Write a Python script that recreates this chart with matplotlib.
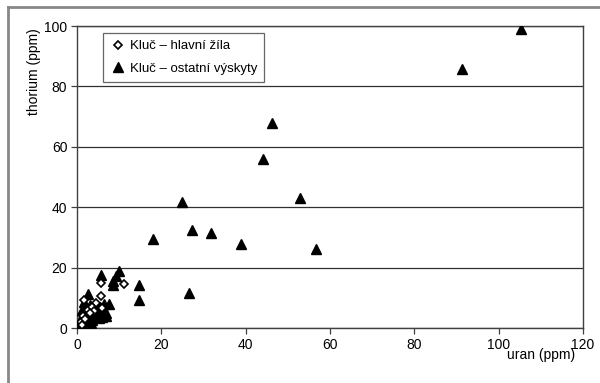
import matplotlib.pyplot as plt
from matplotlib.lines import Line2D

plt.rcParams['font.family'] = ['Liberation Sans', 'DejaVu Sans']

# Kluč - hlavní žíla (uran, thorium)
vein_u = [5.8, 5.8, 11.1, 1.7, 4.6, 2.5, 3.5, 1.5, 1.0, 2.0, 4.0, 3.0, 6.0, 1.2]
vein_th = [14.8, 10.6, 14.5, 9.3, 8.3, 6.0, 7.0, 4.0, 2.0, 3.0, 5.5, 5.0, 6.5, 1.0]

# Kluč - ostatní výskyty
other_u = [2.5, 1.7, 2.0, 1.5, 1.2, 1.0, 0.8, 2.2, 2.8, 3.0, 3.2, 3.8, 4.0, 4.5,
           5.0, 5.5, 5.8, 6.2, 6.8, 7.0, 7.5, 4.2, 3.5, 2.5, 1.8, 6.5, 4.8, 2.0,
           3.0, 1.3, 2.6, 3.6, 4.4, 5.2, 6.0, 2.3, 1.6, 3.3,
           5.8, 8.5, 8.5, 9.3, 10.0, 14.8, 14.8, 18.1, 24.8, 26.5, 27.3,
           31.8, 38.9, 44.2, 46.3, 52.9, 56.6, 91.4, 105.3]
other_th = [11.3, 8.5, 6.5, 4.5, 3.0, 1.5, 0.5, 2.0, 4.0, 6.0, 7.5, 5.5, 3.5, 6.5,
            5.0, 7.0, 4.5, 6.0, 5.0, 4.0, 8.0, 7.8, 2.5, 1.0, 0.8, 8.0, 4.2, 1.5,
            3.0, 5.8, 5.2, 4.8, 5.6, 3.2, 3.6, 3.6, 2.2, 1.8,
            17.5, 15.5, 14.2, 17.3, 19.0, 14.3, 9.2, 29.4, 41.7, 11.5, 32.3,
            31.4, 27.9, 56.0, 67.9, 43.2, 26.0, 85.8, 99.0]

fig = plt.figure(figsize=(6, 3.83), dpi=100)
ax = fig.add_axes([0.1283, 0.1436, 0.8434, 0.7885])

ax.plot(other_u, other_th, '^', color='black', markersize=6.5,
        linestyle='none', label='Kluč – ostatní výskyty', zorder=3)
ax.plot(vein_u, vein_th, 'D', markerfacecolor='white', markeredgecolor='black',
        markeredgewidth=1.2, markersize=4.5, linestyle='none',
        label='Kluč – hlavní žíla', zorder=4)

ax.set_xlim(0, 120)
ax.set_ylim(0, 100)
ax.set_xticks(range(0, 121, 20))
ax.set_yticks(range(0, 101, 20))
ax.yaxis.grid(True, color='#303030', linewidth=0.9)
ax.set_axisbelow(True)
for s in ax.spines.values():
    s.set_color('#404040')
    s.set_linewidth(1.0)
ax.tick_params(direction='out', length=4, width=0.9, color='#404040',
               labelsize=10, colors='black', pad=3)

ax.set_xlabel('uran (ppm)', fontsize=10)
ax.xaxis.set_label_coords(0.985, -0.065)
ax.xaxis.label.set_horizontalalignment('right')
ax.set_ylabel('thorium (ppm)', fontsize=10)
ax.yaxis.set_label_coords(-0.072, 0.85)

handles, labels = ax.get_legend_handles_labels()
leg = ax.legend(handles[::-1], labels[::-1], loc='upper left',
                bbox_to_anchor=(0.051, 0.977), borderaxespad=0, fontsize=9.5,
                frameon=True, fancybox=False, handletextpad=0.3,
                borderpad=0.55, labelspacing=0.75, handlelength=1.2)
leg.get_frame().set_edgecolor('#404040')
leg.get_frame().set_linewidth(0.9)

# outer gray frame (top and left)
fig.add_artist(Line2D([0.0133, 1.0], [0.9817, 0.9817], color='#888888',
                      linewidth=2, transform=fig.transFigure))
fig.add_artist(Line2D([0.0133, 0.0133], [0.0, 0.9817], color='#888888',
                      linewidth=2, transform=fig.transFigure))

fig.savefig('out.png', dpi=100)
